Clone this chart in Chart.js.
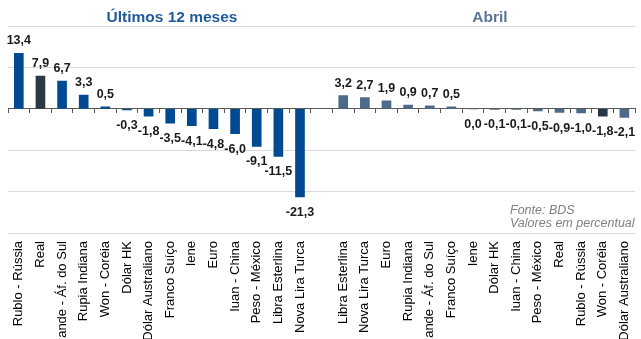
<!DOCTYPE html>
<html>
<head>
<meta charset="utf-8">
<script src="https://cdn.jsdelivr.net/npm/chart.js@4"></script>
<style>
    html, body { margin: 0; padding: 0; background: #fff; overflow: hidden; width: 641px; height: 339px; }
    #wrap { position: relative; width: 648px; height: 349px; }
    .titulo { position: absolute; top: 9px; font: bold 15.5px "Liberation Sans", Arial, sans-serif; text-align: center; line-height: 16px; }
    #t1 { left: 72px; width: 200px; color: #1f5b9b; }
    #t2 { left: 390px; width: 200px; color: #5a7694; }
    #fonte { position: absolute; left: 510px; top: 204px; font: italic 12.5px "Liberation Sans", Arial, sans-serif; line-height: 13px; color: #808080; white-space: nowrap; }
</style>
</head>
<body>
<div id="wrap">
    <canvas id="moedasChart" width="648" height="349"></canvas>
    <div class="titulo" id="t1">Últimos 12 meses</div>
    <div class="titulo" id="t2">Abril</div>
    <div id="fonte">Fonte: BDS<br>Valores em percentual</div>
</div>
<script>
// Variação das moedas frente ao dólar
const moedas12 = ['Rublo - Rússia', 'Real', 'Rande - Áf. do Sul', 'Rupia Indiana', 'Won - Coréia', 'Dólar HK',
    'Dólar Australiano', 'Franco Suíço', 'Iene', 'Euro', 'Iuan - China', 'Peso - México', 'Libra Esterlina', 'Nova Lira Turca'];
const valores12 = [13.4, 7.9, 6.7, 3.3, 0.5, -0.3, -1.8, -3.5, -4.1, -4.8, -6.0, -9.1, -11.5, -21.3];

const moedasAbril = ['Libra Esterlina', 'Nova Lira Turca', 'Euro', 'Rupia Indiana', 'Rande - Áf. do Sul', 'Franco Suíço',
    'Iene', 'Dólar HK', 'Iuan - China', 'Peso - México', 'Real', 'Rublo - Rússia', 'Won - Coréia', 'Dólar Australiano'];
const valoresAbril = [3.2, 2.7, 1.9, 0.9, 0.7, 0.5, 0.0, -0.1, -0.1, -0.5, -0.9, -1.0, -1.8, -2.1];

const destaque12 = 'Real';
const destaqueAbril = 'Won - Coréia';

const yTicks = [20, 10, 0, -10, -20, -30];

// junta os dois painéis com uma categoria vazia no meio
const labels = moedas12.concat([''], moedasAbril);
const valores = valores12.concat([null], valoresAbril);
const cores = moedas12.map(function(m) { return m === destaque12 ? '#2b3947' : '#004a92'; })
    .concat(['#fff'], moedasAbril.map(function(m) { return m === destaqueAbril ? '#283748' : '#4e6a89'; }));

function fmt(v) {
    return v.toFixed(1).replace('.', ',');
}

// rótulos de valor acima/abaixo das barras
const rotulosPlugin = {
    id: 'rotulos',
    afterDatasetsDraw: function(chart) {
        const ctx = chart.ctx;
        const meta = chart.getDatasetMeta(0);
        ctx.save();
        ctx.font = 'bold 12.5px "Liberation Sans", Arial, sans-serif';
        ctx.fillStyle = '#1a1a1a';
        ctx.textAlign = 'center';
        ctx.textBaseline = 'alphabetic';
        meta.data.forEach(function(bar, i) {
            const v = valores[i];
            if (v === null) return;
            if (v > 0) {
                ctx.fillText(fmt(v), bar.x, bar.y - 9);
            } else {
                ctx.fillText(fmt(v), bar.x, bar.y + 19);
            }
        });
        ctx.restore();
    }
};

document.addEventListener('DOMContentLoaded', function() {
    const el = document.getElementById('moedasChart');
    new Chart(el, {
        type: 'bar',
        data: {
            labels: labels,
            datasets: [{
                data: valores,
                backgroundColor: cores,
                barThickness: 9
            }]
        },
        options: {
            responsive: false,
            animation: false,
            layout: { padding: { left: 8, top: 26, right: 0, bottom: 0 } },
            plugins: {
                legend: { display: false },
                tooltip: { enabled: false }
            },
            scales: {
                x: {
                    offset: true,
                    grid: { display: false, drawTicks: false },
                    border: { display: false },
                    ticks: {
                        autoSkip: false,
                        minRotation: 90,
                        maxRotation: 90,
                        padding: 8,
                        color: '#000',
                        font: { family: '"Liberation Sans", Arial, sans-serif', size: 13 }
                    },
                    afterFit: function(scale) { scale.height = 116; }
                },
                x2: {
                    type: 'category',
                    labels: labels,
                    position: { y: 0 },
                    offset: true,
                    grid: { offset: true, drawOnChartArea: false, drawTicks: true, tickLength: 4, color: '#5a5a5a' },
                    border: { display: true, color: '#5a5a5a', width: 1 },
                    ticks: { display: false }
                },
                y: {
                    min: yTicks[yTicks.length - 1],
                    max: yTicks[0],
                    afterBuildTicks: function(scale) {
                        scale.ticks = yTicks.map(function(v) { return { value: v }; });
                    },
                    grid: { color: '#d9d9d9', drawTicks: false },
                    border: { display: false },
                    ticks: { display: false }
                }
            }
        },
        plugins: [rotulosPlugin]
    });
});
</script>
</body>
</html>
